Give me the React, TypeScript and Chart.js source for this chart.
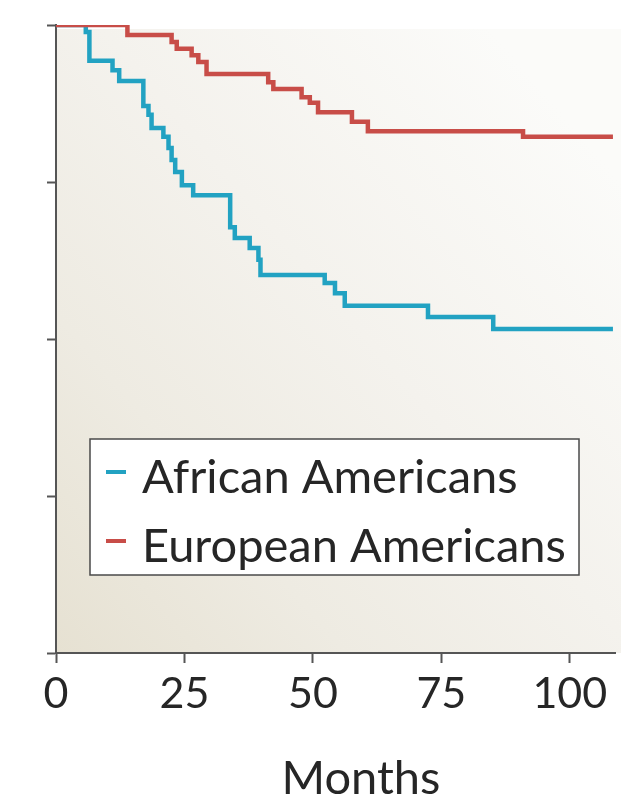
import React, { useEffect, useRef } from "react";
import { Chart, registerables } from "chart.js";

Chart.register(...registerables);

// ---- Data ----
const SERIES_NAMES = ["African Americans", "European Americans"];
const SERIES_COLORS = ["#22a2c2", "#c84d48"];

const AA_MONTHS = [0, 5.8, 6.5, 11.0, 12.3, 17.0, 18.0, 18.6, 20.9, 21.9, 22.5, 23.2, 24.5, 26.7, 33.9, 34.8, 37.7, 39.4, 39.8, 52.3, 54.3, 56.2, 72.4, 85.1, 108.4];
const AA_SURVIVAL = [1.0, 0.989, 0.943, 0.928, 0.911, 0.871, 0.857, 0.836, 0.822, 0.804, 0.785, 0.766, 0.745, 0.729, 0.678, 0.661, 0.645, 0.626, 0.602, 0.589, 0.573, 0.553, 0.535, 0.516, 0.516];

const EA_MONTHS = [0, 13.9, 22.5, 23.5, 26.4, 27.7, 29.3, 41.3, 42.3, 47.8, 49.4, 51.0, 57.6, 60.7, 90.9, 108.4];
const EA_SURVIVAL = [1.0, 0.984, 0.973, 0.962, 0.952, 0.941, 0.922, 0.909, 0.898, 0.885, 0.876, 0.861, 0.846, 0.831, 0.822, 0.822];

const X_TICKS = [0, 25, 50, 75, 100];
const Y_TICKS = [0, 0.25, 0.5, 0.75, 1];
const X_MIN = 0;
const X_MAX = 108.8;
const X_TITLE = "Months";

const FONT = "Lato, 'Open Sans', sans-serif";
const TEXT_COLOR = "#262626";
const AXIS_COLOR = "#555555";

const toPoints = (xs: number[], ys: number[]) => xs.map((x, i) => ({ x, y: ys[i] }));

const backgroundPlugin = {
  id: "plotBackground",
  beforeDraw(chart: any) {
    const { ctx, chartArea } = chart;
    const { left, right, top, bottom } = chartArea;
    ctx.save();
    const g = ctx.createLinearGradient(left, bottom, right, top + 150);
    g.addColorStop(0, "#e6e1d2");
    g.addColorStop(0.3, "#eeebe2");
    g.addColorStop(0.6, "#f4f2ed");
    g.addColorStop(1, "#fbfbf9");
    ctx.fillStyle = g;
    ctx.fillRect(left, top + 4, right + 6 - left, bottom - top - 4);
    ctx.restore();
  },
};

const legendBoxPlugin = {
  id: "legendBox",
  afterDraw(chart: any) {
    const { ctx, chartArea } = chart;
    const x0 = chartArea.left + 34;
    const y0 = chartArea.top + 414;
    const w = 489;
    const h = 136;
    ctx.save();
    ctx.fillStyle = "#ffffff";
    ctx.fillRect(x0, y0, w, h);
    ctx.strokeStyle = "#4a4a4a";
    ctx.lineWidth = 1.5;
    ctx.strokeRect(x0, y0, w, h);
    ctx.font = `47px ${FONT}`;
    ctx.textBaseline = "alphabetic";
    ctx.textAlign = "left";
    chart.data.datasets.forEach((ds: any, i: number) => {
      const baseline = y0 + 54 + i * 69;
      const midY = baseline - 21;
      ctx.strokeStyle = ds.borderColor;
      ctx.lineWidth = 4;
      ctx.beginPath();
      ctx.moveTo(x0 + 16, midY);
      ctx.lineTo(x0 + 36, midY);
      ctx.stroke();
      ctx.fillStyle = TEXT_COLOR;
      ctx.fillText(ds.label, x0 + 52, baseline);
    });
    ctx.restore();
  },
};

const xTitlePlugin = {
  id: "xTitle",
  afterDraw(chart: any) {
    const { ctx, chartArea } = chart;
    ctx.save();
    ctx.font = `47px ${FONT}`;
    ctx.fillStyle = TEXT_COLOR;
    ctx.textAlign = "center";
    ctx.textBaseline = "alphabetic";
    ctx.fillText(X_TITLE, chartArea.left + 305, chartArea.bottom + 141);
    ctx.restore();
  },
};

export default function App() {
  const canvasRef = useRef<HTMLCanvasElement | null>(null);

  useEffect(() => {
    if (!canvasRef.current) return;
    const chart = new Chart(canvasRef.current, {
      type: "line",
      data: {
        datasets: [
          {
            label: SERIES_NAMES[0],
            data: toPoints(AA_MONTHS, AA_SURVIVAL),
            borderColor: SERIES_COLORS[0],
            backgroundColor: SERIES_COLORS[0],
            borderWidth: 4.5,
            pointRadius: 0,
            stepped: "before",
            fill: false,
            order: 1,
            borderCapStyle: "butt",
            borderJoinStyle: "miter",
          },
          {
            label: SERIES_NAMES[1],
            data: toPoints(EA_MONTHS, EA_SURVIVAL),
            borderColor: SERIES_COLORS[1],
            backgroundColor: SERIES_COLORS[1],
            borderWidth: 4.5,
            pointRadius: 0,
            stepped: "before",
            fill: false,
            order: 0,
            borderCapStyle: "butt",
            borderJoinStyle: "miter",
          },
        ],
      },
      options: {
        animation: false,
        responsive: false,
        maintainAspectRatio: false,
        devicePixelRatio: 1,
        layout: { padding: { left: 0, right: 15, top: 25, bottom: 0 } },
        plugins: {
          legend: { display: false },
          tooltip: { enabled: false },
          title: { display: false },
        },
        scales: {
          x: {
            type: "linear",
            min: X_MIN,
            max: X_MAX,
            afterBuildTicks: (scale: any) => {
              scale.ticks = X_TICKS.map((v) => ({ value: v }));
            },
            afterFit: (scale: any) => {
              scale.height = 147;
            },
            ticks: {
              font: { family: FONT, size: 43 },
              color: TEXT_COLOR,
              padding: 5,
              maxRotation: 0,
              autoSkip: false,
            },
            grid: {
              display: true,
              drawOnChartArea: false,
              drawTicks: true,
              tickLength: 10,
              tickWidth: 2,
              tickColor: AXIS_COLOR,
            },
            border: { display: true, color: AXIS_COLOR, width: 2 },
            title: { display: false },
          },
          y: {
            type: "linear",
            min: 0,
            max: 1,
            afterBuildTicks: (scale: any) => {
              scale.ticks = Y_TICKS.map((v) => ({ value: v }));
            },
            afterFit: (scale: any) => {
              scale.width = 56;
            },
            ticks: { display: false },
            grid: {
              display: true,
              drawOnChartArea: false,
              drawTicks: true,
              tickLength: 9,
              tickWidth: 2,
              tickColor: AXIS_COLOR,
            },
            border: { display: true, color: AXIS_COLOR, width: 2 },
          },
        },
      },
      plugins: [backgroundPlugin, legendBoxPlugin, xTitlePlugin],
    } as any);
    return () => chart.destroy();
  }, []);

  return (
    <div style={{ position: "absolute", left: 0, top: 0, width: 630, height: 800, background: "#ffffff" }}>
      <canvas ref={canvasRef} width={630} height={800} style={{ display: "block", width: 630, height: 800 }} />
    </div>
  );
}
